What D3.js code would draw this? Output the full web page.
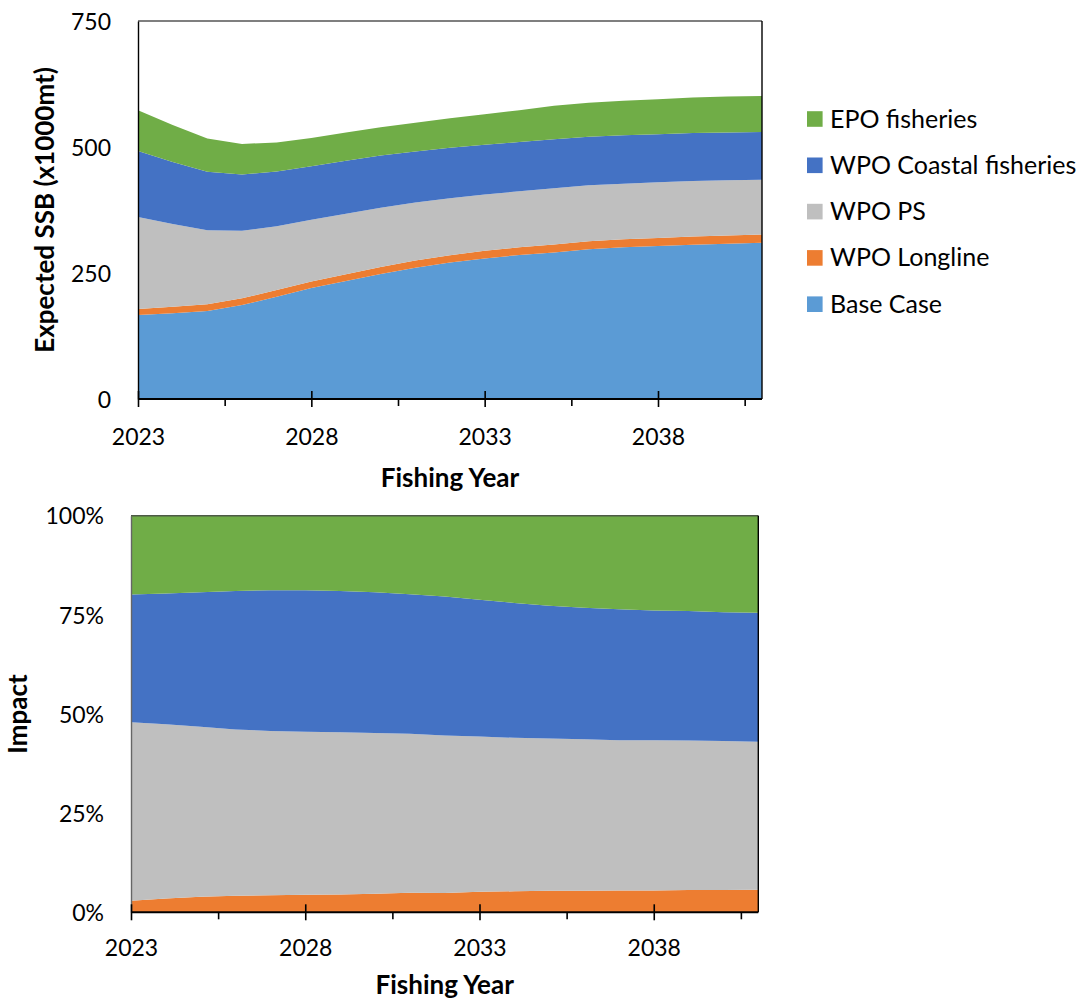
<!DOCTYPE html>
<html>
<head>
<meta charset="utf-8">
<script src="https://cdn.jsdelivr.net/npm/d3@7"></script>
<style>
  html, body { margin: 0; padding: 0; background: #fff; }
  svg { display: block; font-family: "Lato", "Carlito", "Open Sans", sans-serif; }
  svg text { font-family: "Lato", "Carlito", "Open Sans", sans-serif; }
</style>
</head>
<body>
<svg id="chart" width="1085" height="1002"></svg>
<script>
// ---------------- data ----------------
const years = [2023,2024,2025,2026,2027,2028,2029,2030,2031,2032,2033,2034,2035,2036,2037,2038,2039,2040,2041];
const seriesNames = ["Base Case", "WPO Longline", "WPO PS", "WPO Coastal fisheries", "EPO fisheries"];
const baseCase  = [166.7,170,174.6,186.5,203,220,234,248,260.5,271,279,285.7,290.5,297,301,303.6,306,308,310];
const wpoLongline = [11.8,13.1,13.4,13.4,13.2,13.1,13.3,13.7,14.1,14.0,14.9,15.2,15.9,15.9,16.0,16.0,16.4,16.5,16.6];
const wpoPS     = [182.7,164.0,146.9,133.9,126.7,122.5,120.5,117.9,115.3,113.5,111.8,111.2,111.6,111.0,110.3,110.4,110.1,109.6,108.5];
const wpoCoastal = [130.8,123.3,116.1,111.5,108.6,106.4,104.8,103.3,101.2,100.2,98.7,97.7,97.5,96.6,96.0,95.3,95.5,94.9,94.6];
const epoFisheries = [80.8,73.2,66.1,60.7,57.5,56.0,56.0,56.2,56.9,58.2,60.6,63.2,66.1,67.5,68.7,69.6,70.1,71.0,71.3];
const xTickLabels = [2023, 2028, 2033, 2038];
const xMinorTicks = [2025.5, 2030.5, 2035.5, 2040.5];
const ssbTicks = [0, 250, 500, 750];
const pctTicks = [0, 0.25, 0.5, 0.75, 1];
const colors = {
  "Base Case": "#5B9BD5",
  "WPO Longline": "#ED7D31",
  "WPO PS": "#BFBFBF",
  "WPO Coastal fisheries": "#4472C4",
  "EPO fisheries": "#70AD47"
};

const seriesValues = {
  "Base Case": baseCase,
  "WPO Longline": wpoLongline,
  "WPO PS": wpoPS,
  "WPO Coastal fisheries": wpoCoastal,
  "EPO fisheries": epoFisheries
};
const table = years.map((y, i) => {
  const row = { year: y };
  seriesNames.forEach(k => row[k] = seriesValues[k][i]);
  return row;
});

const svg = d3.select("#chart");
const FS = 23;      // tick labels
const TFS = 26;     // axis titles
const LFS = 25;     // legend

function drawXAxis(g, x, yAxis, labelBaseline) {
  const major = d3.axisBottom(x).tickValues(xTickLabels).tickFormat(d3.format("d")).tickSize(8).tickPadding(0);
  const ga = g.append("g").attr("transform", `translate(0,${yAxis})`).call(major);
  ga.attr("font-family", null).attr("font-size", null);
  ga.select(".domain").remove();
  ga.selectAll(".tick line").attr("y1", -8).attr("y2", 8).attr("stroke", "#000").attr("stroke-width", 1.6);
  ga.selectAll(".tick text").attr("y", labelBaseline - yAxis).attr("dy", null)
    .attr("font-size", FS).attr("fill", "#000");
  const minor = d3.axisBottom(x).tickValues(xMinorTicks).tickFormat("").tickSize(7);
  const gm = g.append("g").attr("transform", `translate(0,${yAxis})`).call(minor);
  gm.select(".domain").remove();
  gm.selectAll(".tick line").attr("stroke", "#000").attr("stroke-width", 1.6);
  g.append("line").attr("x1", x.range()[0]).attr("x2", x.range()[1])
    .attr("y1", yAxis).attr("y2", yAxis).attr("stroke", "#000").attr("stroke-width", 2);
}

// ---------------- top chart ----------------
{
  const x = d3.scaleLinear().domain([2023, 2041]).range([138, 762]);
  const y = d3.scaleLinear().domain([0, 750]).range([399, 21]);
  const g = svg.append("g");
  const layers = d3.stack().keys(seriesNames)(table);
  const area = d3.area().x(d => x(d.data.year)).y0(d => y(d[0])).y1(d => y(d[1]));
  g.selectAll("path.layer").data(layers).join("path")
    .attr("class", "layer").attr("d", area).attr("fill", d => colors[d.key]);

  g.append("line").attr("x1", 138).attr("x2", 762).attr("y1", 21).attr("y2", 21).attr("stroke", "#000").attr("stroke-width", 1.2);
  g.append("line").attr("x1", 762).attr("x2", 762).attr("y1", 21).attr("y2", 399).attr("stroke", "#000").attr("stroke-width", 1.4);

  const ya = d3.axisLeft(y).tickValues(ssbTicks).tickSize(0).tickPadding(27);
  const gy = g.append("g").attr("transform", "translate(138,0)").call(ya);
  gy.attr("font-family", null).attr("font-size", null);
  gy.select(".domain").attr("stroke", "#000").attr("stroke-width", 1.4);
  gy.selectAll(".tick text").attr("font-size", FS).attr("fill", "#000").attr("dy", "0.36em");

  drawXAxis(g, x, 399, 445);

  g.append("text").attr("x", 450).attr("y", 487).attr("text-anchor", "middle")
    .attr("font-size", TFS).attr("font-weight", "bold").text("Fishing Year");
  g.append("text").attr("transform", "translate(54,210) rotate(-90)").attr("text-anchor", "middle")
    .attr("font-size", TFS).attr("font-weight", "bold").text("Expected SSB (x1000mt)");

  const legendOrder = ["EPO fisheries", "WPO Coastal fisheries", "WPO PS", "WPO Longline", "Base Case"];
  const lg = g.append("g");
  legendOrder.forEach((k, i) => {
    const cy = 119 + i * 46.3;
    lg.append("rect").attr("x", 807).attr("y", cy - 7.8).attr("width", 15.6).attr("height", 15.6).attr("fill", colors[k]);
    lg.append("text").attr("x", 830).attr("y", cy + 8.5).attr("font-size", LFS).attr("fill", "#000").text(k);
  });
}

// ---------------- bottom chart ----------------
{
  const x = d3.scaleLinear().domain([2023, 2041]).range([131, 758.3]);
  const y = d3.scaleLinear().domain([0, 1]).range([912.3, 515.7]);
  const g = svg.append("g");
  const keys = seriesNames.slice(1);
  const layers = d3.stack().keys(keys).offset(d3.stackOffsetExpand)(table);
  const area = d3.area().x(d => x(d.data.year)).y0(d => y(d[0])).y1(d => y(d[1]));
  g.selectAll("path.layer").data(layers).join("path")
    .attr("class", "layer").attr("d", area).attr("fill", d => colors[d.key]);

  g.append("line").attr("x1", 131).attr("x2", 758.3).attr("y1", 515.7).attr("y2", 515.7).attr("stroke", "#4d5a46").attr("stroke-width", 1.4);
  g.append("line").attr("x1", 758.3).attr("x2", 758.3).attr("y1", 515.7).attr("y2", 912.3).attr("stroke", "#000").attr("stroke-width", 1.4);

  const ya = d3.axisLeft(y).tickValues(pctTicks).tickFormat(d3.format(".0%")).tickSize(0).tickPadding(27);
  const gy = g.append("g").attr("transform", "translate(131,0)").call(ya);
  gy.attr("font-family", null).attr("font-size", null);
  gy.select(".domain").attr("stroke", "#666").attr("stroke-width", 1.4);
  gy.selectAll(".tick text").attr("font-size", FS).attr("fill", "#000").attr("dy", "0.36em");

  drawXAxis(g, x, 912.3, 956.5);

  g.append("text").attr("x", 444.7).attr("y", 994).attr("text-anchor", "middle")
    .attr("font-size", TFS).attr("font-weight", "bold").text("Fishing Year");
  g.append("text").attr("transform", "translate(27,714) rotate(-90)").attr("text-anchor", "middle")
    .attr("font-size", TFS).attr("font-weight", "bold").text("Impact");
}
</script>
</body>
</html>
